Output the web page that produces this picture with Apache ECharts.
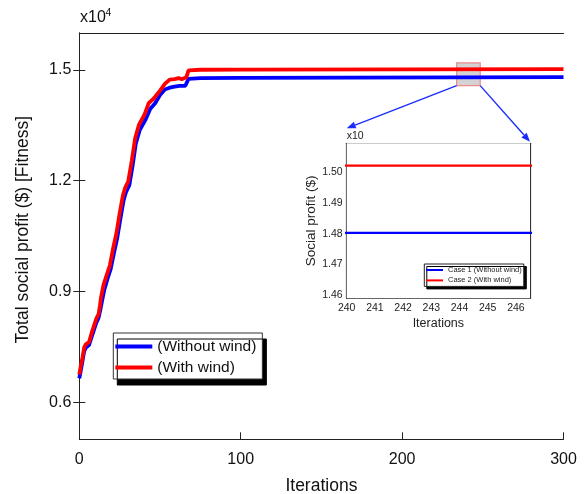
<!DOCTYPE html>
<html>
<head>
<meta charset="utf-8">
<script src="https://cdn.jsdelivr.net/npm/echarts@6/dist/echarts.min.js"></script>
<style>
  html, body { margin: 0; padding: 0; background: #fff; }
  #chart { width: 586px; height: 494px; }
</style>
</head>
<body>
<div id="chart"></div>
<script>
// Total social profit (x10^4 $) reached by the optimiser at each iteration

// Case 1: without wind
const withoutWindIter = [0, 1, 2, 3, 4, 6, 8, 10.5, 12, 13, 14, 15.5, 17.5, 19.5, 21.5, 23.5, 25.5, 27.5, 29, 31, 33, 35, 37.5, 41, 44, 47, 50, 53, 56, 59, 62, 65.7, 67.7, 75, 99, 100, 300];
const withoutWindProfit = [0.665, 0.688, 0.712, 0.738, 0.748, 0.755, 0.782, 0.815, 0.830, 0.850, 0.873, 0.905, 0.935, 0.962, 1.005, 1.045, 1.098, 1.148, 1.170, 1.188, 1.240, 1.300, 1.338, 1.365, 1.395, 1.410, 1.432, 1.447, 1.452, 1.455, 1.457, 1.457, 1.476, 1.478, 1.4785, 1.4803, 1.4803];

// Case 2: with wind
const withWindIter = [0, 1, 2, 3, 4, 6, 8, 10.5, 12, 12.8, 13.5, 15, 17, 19, 21, 23, 25, 27, 28.5, 30.3, 32.5, 34.6, 37, 40.5, 43, 46, 50, 53, 56, 59, 61.5, 63.5, 66.3, 67.7, 75, 99, 100, 300];
const withWindProfit = [0.675, 0.700, 0.722, 0.748, 0.757, 0.763, 0.793, 0.826, 0.840, 0.862, 0.885, 0.918, 0.945, 0.972, 1.018, 1.058, 1.112, 1.160, 1.182, 1.198, 1.254, 1.315, 1.352, 1.380, 1.410, 1.422, 1.444, 1.462, 1.474, 1.475, 1.478, 1.475, 1.480, 1.499, 1.5005, 1.5008, 1.5022, 1.5022];

// Axis ticks
const mainYTicks = [0.6, 0.9, 1.2, 1.5];
const insetYTicks = [1.46, 1.47, 1.48, 1.49, 1.50];

// Region magnified in the inset
const zoomBoxX = [233.8, 248.4];
const zoomBoxY = [1.4575, 1.519];
const insetXRange = [240, 246.5];
const insetYRange = [1.459, 1.5095];

const FONT = '"Liberation Sans", Arial, sans-serif';
const AXIS_COLOR = '#222';
const BLUE = '#0000ff';
const RED = '#ff0000';

function pairs(xs, ys) { return xs.map((x, i) => [x, ys[i]]); }

const lineAxis = { lineStyle: { color: AXIS_COLOR, width: 1 } };

const chart = echarts.init(document.getElementById('chart'), null, { renderer: 'canvas' });

const option = {
  animation: false,
  backgroundColor: '#fff',
  textStyle: { fontFamily: FONT },
  grid: [
    { left: 79.3, top: 33, right: 22.5, bottom: 54.7, show: false, containLabel: false, outerBoundsMode: 'none' },
    { left: 346.7, top: 143.3, right: 56, bottom: 195.7, show: true, backgroundColor: '#fff', borderWidth: 0, z: 5, containLabel: false, outerBoundsMode: 'none' }
  ],
  xAxis: [
    {
      gridIndex: 0, type: 'value', position: 'bottom', min: 0, max: 300, interval: 100,
      axisLine: lineAxis,
      axisTick: { inside: true, length: 7, lineStyle: { color: AXIS_COLOR } },
      axisLabel: { fontSize: 16, color: '#111', margin: 12, fontFamily: FONT },
      splitLine: { show: false },
      name: 'Iterations', nameLocation: 'middle', nameGap: 38,
      nameTextStyle: { fontSize: 17.5, color: '#111', fontFamily: FONT }
    },
    {
      gridIndex: 0, type: 'value', position: 'top', min: 0, max: 300, interval: 100,
      axisLine: lineAxis, axisTick: { show: false }, axisLabel: { show: false }, splitLine: { show: false }
    },
    {
      gridIndex: 1, type: 'value', position: 'bottom', min: insetXRange[0], max: insetXRange[1], interval: 1,
      axisLine: { lineStyle: { color: '#333', width: 1.2 } },
      axisTick: { inside: true, length: 3, lineStyle: { color: '#333' } },
      axisLabel: { fontSize: 10.5, color: '#222', margin: 4, fontFamily: FONT, showMaxLabel: false },
      splitLine: { show: false },
      name: 'Iterations', nameLocation: 'middle', nameGap: 19,
      nameTextStyle: { fontSize: 12.5, color: '#222', fontFamily: FONT }
    },
    {
      gridIndex: 1, type: 'value', position: 'top', min: insetXRange[0], max: insetXRange[1], interval: 1,
      axisLine: { lineStyle: { color: '#333', width: 1.2 } },
      axisTick: { inside: true, length: 3, lineStyle: { color: '#333' } },
      axisLabel: { show: false }, splitLine: { show: false }
    }
  ],
  yAxis: [
    {
      gridIndex: 0, type: 'value', position: 'left', min: 0.5, max: 1.6,
      axisLine: lineAxis,
      axisTick: { inside: true, length: 6, customValues: mainYTicks, lineStyle: { color: AXIS_COLOR } },
      axisLabel: { fontSize: 16, color: '#111', margin: 8, fontFamily: FONT, customValues: mainYTicks, formatter: v => v.toFixed(1) },
      splitLine: { show: false },
      name: 'Total social profit ($) [Fitness]', nameLocation: 'middle', nameGap: 47,
      nameTextStyle: { fontSize: 17.5, color: '#111', fontFamily: FONT, padding: [0, 0, 0, 13] }
    },
    {
      gridIndex: 0, type: 'value', position: 'right', min: 0.5, max: 1.6,
      axisLine: lineAxis,
      axisTick: { inside: true, length: 6, customValues: mainYTicks, lineStyle: { color: AXIS_COLOR } },
      axisLabel: { show: false }, splitLine: { show: false }
    },
    {
      gridIndex: 1, type: 'value', position: 'left', min: insetYRange[0], max: insetYRange[1],
      axisLine: { lineStyle: { color: '#333', width: 1.2 } },
      axisTick: { inside: true, length: 3, customValues: insetYTicks, lineStyle: { color: '#333' } },
      axisLabel: { fontSize: 10.5, color: '#222', margin: 4, fontFamily: FONT, customValues: insetYTicks, formatter: v => v.toFixed(2) },
      splitLine: { show: false },
      name: 'Social profit ($)', nameLocation: 'middle', nameGap: 23,
      nameTextStyle: { fontSize: 13.5, color: '#222', fontFamily: FONT }
    },
    {
      gridIndex: 1, type: 'value', position: 'right', min: insetYRange[0], max: insetYRange[1],
      axisLine: { lineStyle: { color: '#333', width: 1.2 } },
      axisTick: { inside: true, length: 3, customValues: insetYTicks, lineStyle: { color: '#333' } },
      axisLabel: { show: false }, splitLine: { show: false }
    }
  ],
  legend: [
    {
      data: ['(Without wind)', '(With wind)'],
      orient: 'vertical', left: 113.3, top: 333,
      padding: [5, 6, 3, 2], itemGap: 4, itemWidth: 37, itemHeight: 3.8,
      icon: 'rect', selectedMode: false,
      backgroundColor: '#fff', borderColor: '#333', borderWidth: 1,
      shadowColor: '#000', shadowBlur: 0, shadowOffsetX: 4, shadowOffsetY: 6,
      textStyle: { fontSize: 15.5, lineHeight: 17, color: '#111', fontFamily: FONT }
    },
    {
      data: ['Case 1 (Without wind)', 'Case 2 (With wind)'],
      orient: 'vertical', left: 424.3, top: 264,
      padding: [1.5, 2, 1.5, 1.7], itemGap: 1.4, itemWidth: 17, itemHeight: 2,
      icon: 'rect', selectedMode: false,
      backgroundColor: '#fff', borderColor: '#222', borderWidth: 1,
      shadowColor: '#000', shadowBlur: 0, shadowOffsetX: 2.5, shadowOffsetY: 2.5,
      textStyle: { fontSize: 7.5, lineHeight: 9, color: '#222', fontFamily: FONT },
      z: 10
    }
  ],
  series: [
    {
      name: '(Without wind)', type: 'line', xAxisIndex: 0, yAxisIndex: 0,
      data: pairs(withoutWindIter, withoutWindProfit),
      showSymbol: false, symbol: 'none', z: 2,
      itemStyle: { color: BLUE }, lineStyle: { color: BLUE, width: 3.8 }
    },
    {
      name: '(With wind)', type: 'line', xAxisIndex: 0, yAxisIndex: 0,
      data: pairs(withWindIter, withWindProfit),
      showSymbol: false, symbol: 'none', z: 3,
      itemStyle: { color: RED }, lineStyle: { color: RED, width: 3.8 }
    },
    {
      name: 'Case 1 (Without wind)', type: 'line', xAxisIndex: 2, yAxisIndex: 2,
      data: pairs(withoutWindIter, withoutWindProfit),
      showSymbol: false, symbol: 'none', clip: true, z: 6,
      itemStyle: { color: BLUE }, lineStyle: { color: BLUE, width: 2.2 }
    },
    {
      name: 'Case 2 (With wind)', type: 'line', xAxisIndex: 2, yAxisIndex: 2,
      data: pairs(withWindIter, withWindProfit),
      showSymbol: false, symbol: 'none', clip: true, z: 6,
      itemStyle: { color: RED }, lineStyle: { color: RED, width: 2.2 }
    },
    {
      // translucent box marking the magnified region
      type: 'line', xAxisIndex: 0, yAxisIndex: 0, data: [], z: 8, silent: true,
      markArea: {
        silent: true,
        itemStyle: { color: 'rgba(175,175,175,0.55)', borderColor: '#ee8a8a', borderWidth: 1.2 },
        data: [[{ coord: [zoomBoxX[0], zoomBoxY[1]] }, { coord: [zoomBoxX[1], zoomBoxY[0]] }]]
      }
    }
  ]
};

chart.setOption(option);

// Connector arrows from the marked box to the inset, plus the multiplier captions
function arrow(from, to, color) {
  const dx = to[0] - from[0], dy = to[1] - from[1];
  const len = Math.hypot(dx, dy);
  const ux = dx / len, uy = dy / len;
  const hl = 9, hw = 3.5;
  const bx = to[0] - ux * hl, by = to[1] - uy * hl;
  return [
    { type: 'line', z: 20, shape: { x1: from[0], y1: from[1], x2: bx, y2: by }, style: { stroke: color, lineWidth: 1.4 } },
    { type: 'polygon', z: 20, shape: { points: [to, [bx - uy * hw, by + ux * hw], [bx + uy * hw, by - ux * hw]] }, style: { fill: color } }
  ];
}

const mainPx = pt => chart.convertToPixel({ xAxisIndex: 0, yAxisIndex: 0 }, pt);
const insetPx = pt => chart.convertToPixel({ xAxisIndex: 2, yAxisIndex: 2 }, pt);
const boxBL = mainPx([zoomBoxX[0], zoomBoxY[0]]);
const boxBR = mainPx([zoomBoxX[1], zoomBoxY[0]]);
const insetTL = insetPx([insetXRange[0], insetYRange[1]]);
const insetTR = insetPx([insetXRange[1], insetYRange[1]]);
const ARROW = '#1a2cff';

chart.setOption({
  graphic: [].concat(
    arrow(boxBL, [insetTL[0], insetTL[1] - 15], ARROW),
    arrow(boxBR, [insetTR[0], insetTR[1] - 1.5], ARROW),
    [
      { type: 'text', z: 20, style: { x: 80, y: 26, text: 'x10', fontSize: 16, fill: '#111', fontFamily: FONT, verticalAlign: 'bottom' } },
      { type: 'text', z: 20, style: { x: 105.5, y: 19, text: '4', fontSize: 10.5, fill: '#111', fontFamily: FONT, verticalAlign: 'bottom' } },
      { type: 'text', z: 20, style: { x: insetTL[0], y: insetTL[1] - 1.5, text: 'x10', fontSize: 10.5, fill: '#222', fontFamily: FONT, verticalAlign: 'bottom' } }
    ]
  )
});
</script>
</body>
</html>
